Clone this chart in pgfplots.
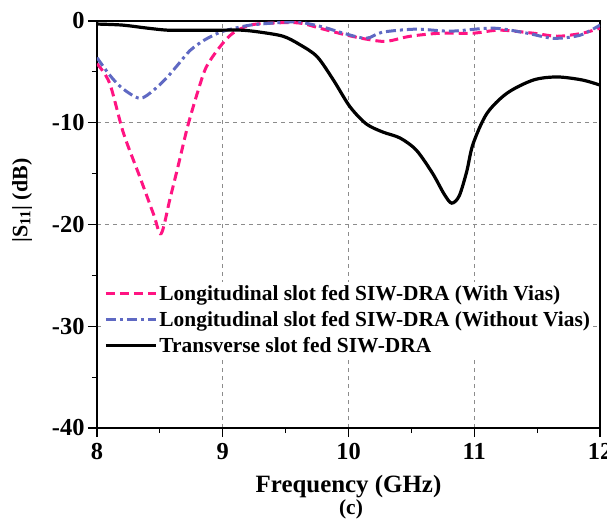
\documentclass[border=0pt]{standalone}
\usepackage{pgfplots}
\pgfplotsset{compat=1.18}
\usepackage{fontspec}
\setmainfont{Liberation Serif}
\definecolor{cpink}{RGB}{255,20,130}
\definecolor{cblue}{RGB}{95,105,195}
\definecolor{cgrid}{RGB}{140,140,140}
\begin{document}
\begin{tikzpicture}
\begin{axis}[
  at={(0,0)}, anchor=south west,
  scale only axis, width=503bp, height=407bp,
  xmin=8, xmax=12, ymin=-40, ymax=0,
  xtick={8,9,10,11,12}, ytick={-40,-30,-20,-10,0},
  minor x tick num=1, minor y tick num=1,
  tick align=outside, xtick pos=bottom, ytick pos=left,
  major tick length=9bp, minor tick length=5bp,
  every tick/.style={black, line width=1.2bp},
  axis line style={black, line width=1.5bp},
  grid=major,
  major grid style={cgrid, line width=0.9bp, dash pattern=on 4bp off 4bp},
  tick label style={font=\bfseries\fontsize{24.5}{28}\selectfont},
  xticklabel style={yshift=-3bp},
  /pgf/number format/assume math mode=true,
  xlabel={Frequency (GHz)},
  ylabel={|S\textsubscript{11}| (dB)},
  xlabel style={font=\bfseries\fontsize{25}{29}\selectfont, yshift=-8bp},
  ylabel style={font=\bfseries\fontsize{22}{26}\selectfont, yshift=13bp, xshift=24bp},
  legend cell align=left,
  legend style={at={(rel axis cs:0.012,0.358)}, anchor=north west, draw=none, fill=white,
    font=\bfseries\fontsize{21.5}{24}\selectfont, row sep=5.5bp, inner sep=1bp,
    /tikz/every even column/.append style={column sep=2bp}},
  legend image code/.code={\draw[#1] (0bp,0bp) -- (50bp,0bp);},
]
\addplot[cpink, line width=3bp, dash pattern=on 9bp off 5bp, smooth, tension=0.5] coordinates {
(8.00,-4.2) (8.10,-6.1) (8.21,-11.0) (8.34,-15.3) (8.45,-19.0) (8.51,-20.9) (8.58,-17.5)
(8.65,-14.0) (8.72,-10.4) (8.80,-7.0) (8.87,-4.5) (8.98,-2.5) (9.08,-1.2) (9.22,-0.4)
(9.40,-0.2) (9.61,-0.2) (9.80,-0.8) (9.99,-1.4) (10.15,-1.8) (10.30,-2.0) (10.49,-1.5)
(10.73,-1.2) (10.99,-1.2) (11.20,-0.9) (11.47,-1.2) (11.66,-1.5) (11.86,-1.2) (12.00,-0.7)};
\addlegendentry{Longitudinal slot fed SIW-DRA (With Vias)}
\addplot[cblue, line width=3bp, dash pattern=on 10bp off 4bp on 3bp off 4bp, smooth, tension=0.5] coordinates {
(8.00,-3.6) (8.10,-5.3) (8.20,-6.6) (8.34,-7.6) (8.45,-6.8) (8.56,-5.5) (8.65,-4.2)
(8.74,-2.9) (8.85,-1.9) (8.98,-1.1) (9.10,-0.7) (9.22,-0.4) (9.40,-0.2) (9.53,-0.1)
(9.61,-0.1) (9.80,-0.6) (9.96,-1.2) (10.14,-1.7) (10.27,-1.1) (10.54,-0.8) (10.81,-1.0)
(11.15,-0.7) (11.42,-1.2) (11.63,-1.7) (11.84,-1.4) (12.00,-0.4)};
\addlegendentry{Longitudinal slot fed SIW-DRA (Without Vias)}
\addplot[black, line width=3.2bp, smooth, tension=0.5] coordinates {
(8.00,-0.3) (8.20,-0.4) (8.40,-0.7) (8.56,-0.9) (8.75,-0.9) (8.98,-0.9) (9.15,-0.9)
(9.30,-1.1) (9.48,-1.5) (9.61,-2.3) (9.75,-3.5) (9.88,-5.8) (10.01,-8.4) (10.14,-10.1)
(10.27,-10.9) (10.41,-11.5) (10.54,-12.7) (10.67,-15.0) (10.76,-17.0) (10.82,-17.9)
(10.88,-17.2) (10.94,-14.8) (10.99,-12.1) (11.10,-9.1) (11.26,-7.1) (11.47,-5.8)
(11.66,-5.5) (11.86,-5.8) (12.00,-6.3)};
\addlegendentry{Transverse slot fed SIW-DRA}
\end{axis}
\node[font=\bfseries\fontsize{21.5}{25}\selectfont] at (254bp,-81bp) {(c)};
\pgfresetboundingbox
\path[use as bounding box] (-97bp,-91bp) rectangle (510bp,428bp);
\end{tikzpicture}
\end{document}
